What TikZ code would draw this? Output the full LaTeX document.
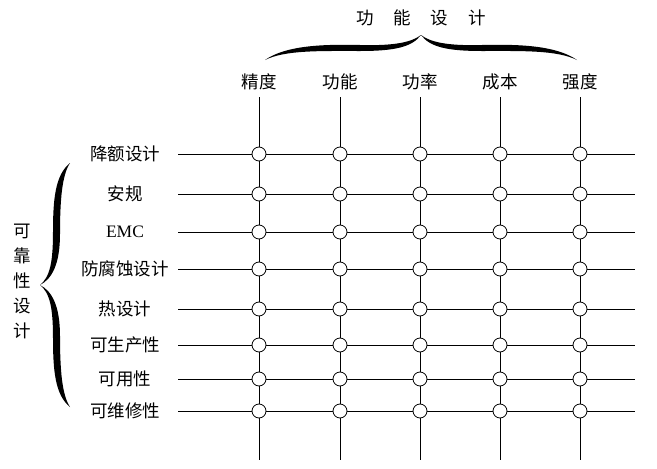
\documentclass[tikz,border=0pt]{standalone}
\usepackage{fontspec}
\setmainfont{Noto Sans CJK SC}
\newfontfamily\lat{Liberation Serif}
\begin{document}
\begin{tikzpicture}[x=1pt,y=-1pt,font=\fontsize{17.5}{17.5}\selectfont,line width=0.8pt,
  dot/.style={circle,draw,fill=white,inner sep=0pt,minimum size=14pt},
  halftop/.pic={\fill (265,60) .. controls (285,46) and (320,44) .. (360,45)
      .. controls (395,46) and (412,42) .. (421,35)
      .. controls (412,47) and (395,51) .. (360,51)
      .. controls (320,51) and (285,50) .. (265,60) -- cycle;},
  halfleft/.pic={\fill (70,163) .. controls (55,175) and (53,200) .. (53,232)
      .. controls (53,262) and (50,277) .. (40,285)
      .. controls (52,279) and (60,264) .. (60,234)
      .. controls (60,200) and (62,175) .. (70,163) -- cycle;}]
\useasboundingbox (0,0) rectangle (657,469);
\node (title) at (421,18) {功\hspace{20pt}能\hspace{20pt}设\hspace{20pt}计};
% braces
\pic at (0,0) {halftop};
\pic[xscale=-1] at (842,0) {halftop};
\node[align=center,font=\fontsize{17.5}{25}\selectfont] (side) at (22,281) {可\\靠\\性\\设\\计};
\pic at (0,0) {halfleft};
\pic[yscale=-1] at (0,570) {halfleft};
\foreach \x/\t [count=\i] in {259/精度,340/功能,420/功率,500/成本,580/强度}{
  \node (c\i) at (\x,82) {\t};
  \coordinate (t\i) at (\x,97);
  \coordinate (b\i) at (\x,460);
  \draw (t\i) -- (b\i);
}
\foreach \y/\t [count=\j] in {154/降额设计,194/安规,232/{\lat EMC},269/防腐蚀设计,309/热设计,345/可生产性,379/可用性,411/可维修性}{
  \node (r\j) at (125,\y) {\t};
  \coordinate (l\j) at (178,\y);
  \coordinate (e\j) at (635,\y);
  \draw (l\j) -- (e\j);
}
\foreach \i in {1,...,5}
  \foreach \j in {1,...,8}
    \node[dot] (d\i\j) at (t\i |- l\j) {};
\end{tikzpicture}
\end{document}
